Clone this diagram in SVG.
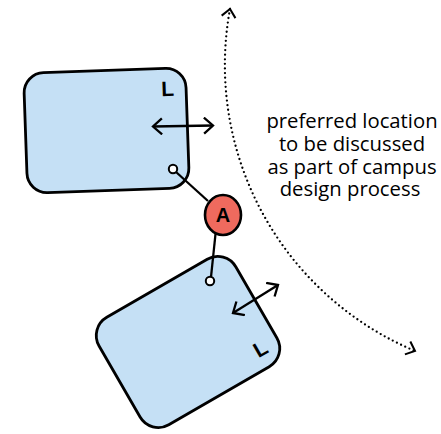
<svg xmlns="http://www.w3.org/2000/svg" width="441" height="434" viewBox="0 0 441 434">
<style>
.box{fill:#c5e0f5;stroke:#000;stroke-width:2.8}
.lbl{font-family:"Liberation Sans",Arial,sans-serif;font-weight:bold;fill:#000;text-anchor:middle}
.ln{fill:none;stroke:#000;stroke-width:2.3}
.port{fill:#fff;stroke:#000;stroke-width:2}
.dbl{fill:none;stroke:#000;stroke-width:2.3;marker-start:url(#chev);marker-end:url(#chev)}
.dot{fill:none;stroke:#000;stroke-width:2.3;stroke-linecap:round;stroke-dasharray:0 4.6;marker-start:url(#chevs);marker-end:url(#chevs)}
.note{font-family:"Open Sans","Noto Sans",sans-serif;font-size:20.3px;fill:#000;text-anchor:middle}
</style>
<defs>
<marker id="chev" viewBox="-12 -9 14 18" markerWidth="14" markerHeight="18" refX="0" refY="0" orient="auto-start-reverse" markerUnits="userSpaceOnUse">
<path d="M-9 -8 L0 0 L-9 8" fill="none" stroke="#000" stroke-width="2.3"/>
</marker>
<marker id="chevs" viewBox="-12 -9 14 18" markerWidth="14" markerHeight="18" refX="0" refY="0" orient="auto-start-reverse" markerUnits="userSpaceOnUse">
<path d="M-8 -7 L0 0 L-8 7" fill="none" stroke="#000" stroke-width="2"/>
</marker>
</defs>
<g id="building-top">
<rect class="box" x="-81" y="-60" width="162" height="120" rx="20" transform="translate(106.5,130.5) rotate(-2)"/>
<text class="lbl" font-size="21" transform="translate(168,96) rotate(-2)">L</text>
<path class="dbl" d="M153 126.5 L213 125.5"/>
<circle class="port" cx="173" cy="169" r="4.2"/>
</g>
<g id="building-bottom">
<rect class="box" x="-79" y="-62" width="158" height="124" rx="21" transform="translate(188,342) rotate(-30)"/>
<text class="lbl" font-size="21" transform="translate(264,355) rotate(-30)">L</text>
<path class="dbl" d="M233 313 L278 285"/>
<circle class="port" cx="210" cy="281" r="4.2"/>
</g>
<g id="connectors">
<path class="ln" d="M176 172 L208 201"/>
<path class="ln" d="M215.5 234 L211 277"/>
<path class="dot" d="M230 9 A310 310 0 0 0 415 351"/>
</g>
<g id="node-A">
<ellipse cx="223" cy="215" rx="18" ry="20" fill="#ef6a5e" stroke="#000" stroke-width="2.6"/>
<text class="lbl" font-size="20" x="223" y="222">A</text>
</g>
<g id="note">
<text class="note" x="352" y="128">preferred location</text>
<text class="note" x="352" y="151">to be discussed</text>
<text class="note" x="352" y="174">as part of campus</text>
<text class="note" x="350" y="196">design process</text>
</g>
</svg>
